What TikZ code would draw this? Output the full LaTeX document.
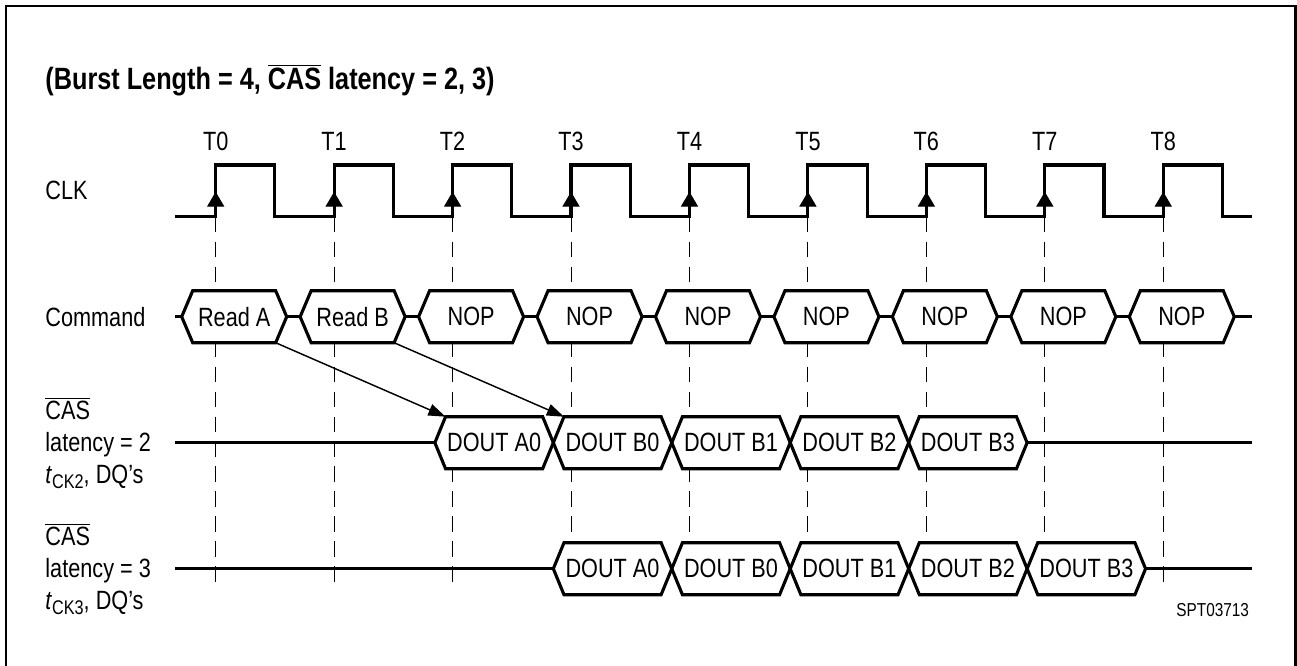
\documentclass[tikz,border=0pt]{standalone}
\usepackage{fontspec}
\setmainfont{Liberation Sans}[FakeStretch=0.82]
\usetikzlibrary{arrows.meta,positioning,calc}

\begin{document}
\begin{tikzpicture}[
  sig/.style={line width=1.5pt, line join=miter},
  txt/.style={font=\fontsize{12.7}{15.4}\selectfont},
  bus/.style={txt, fill=white, inner sep=0pt, outer sep=0pt, minimum height=0.878cm},
  cmd/.style={bus, minimum width=1.401cm},
  dout/.style={bus, minimum width=1.64cm},
  tick/.style={line width=0.5pt, dash pattern=on 7.5pt off 4.5pt},
  ptr/.style={-{Triangle[length=0.29cm,width=0.2cm]}, line width=0.7pt},
  lbl/.style={txt, anchor=west, align=left, inner sep=0pt}
]
  \useasboundingbox (0,0) rectangle (21.9,-11.245);
  % frame
  \draw[line width=1pt] (0.101,-11.245) -- (0.101,-0.101) -- (21.874,-0.101) -- (21.874,-11.245);

  \node[anchor=west, inner sep=0pt, font=\bfseries\fontsize{14.8}{17}\selectfont] (title) at (0.76,-1.351)
    {(Burst Length = 4, $\overline{\mbox{CAS}}$ latency = 2, 3)};

  % clock
  \draw[sig] (2.955,-3.659)
    \foreach \i in {0,...,8} { -- (3.642+2*\i,-3.659) -- ++(0,0.873) -- ++(1,0) -- ++(0,-0.873) }
    -- (21.145,-3.659);
  \foreach \i in {0,...,8} {
    \coordinate (t\i) at (3.642+2*\i,-3.659);
    \node[txt] (lt\i) at (3.642+2*\i,-2.393) {T\i};
    \draw[tick] (t\i) -- ++(0,-6.18);
    \draw[-{Triangle[length=0.25cm,width=0.29cm]}, line width=0.5pt] (t\i) -- ++(0,0.42);
  }

  \node[lbl] (clk) at (0.76,-3.208) {CLK};
  \node[lbl] (cmdl) at (0.76,-5.348) {Command};
  \node[lbl] (cas2) at (0.76,-7.475)
    {$\overline{\mbox{CAS}}$\\latency = 2\\\textit{t}\raisebox{-0.35ex}{\fontsize{9.5}{10}\selectfont CK2}, DQ’s};
  \node[lbl] (cas3) at (0.76,-9.603)
    {$\overline{\mbox{CAS}}$\\latency = 3\\\textit{t}\raisebox{-0.35ex}{\fontsize{9.5}{10}\selectfont CK3}, DQ’s};

  % command bus
  \foreach \txt [count=\i from 0] in {Read A, Read B, NOP, NOP, NOP, NOP, NOP, NOP, NOP}
    \node[cmd] (c\i) at (3.9545+2*\i,-5.348) {\txt};
  \foreach \i in {0,...,8}
    \draw[sig] (c\i.north west) -- (c\i.north east) -- ++(0.186,-0.439) -- (c\i.south east)
      -- (c\i.south west) -- ++(-0.186,0.439) -- cycle;
  \coordinate (cs) at (2.955,-5.348);
  \coordinate (ce) at (21.145,-5.348);
  \draw[sig] (cs) -- ($(c0.west)+(-0.186,0)$);
  \foreach \i [evaluate=\i as \j using int(\i+1)] in {0,...,7}
    \draw[sig] ($(c\i.east)+(0.186,0)$) -- ($(c\j.west)+(-0.186,0)$);
  \draw[sig] ($(c8.east)+(0.186,0)$) -- (ce);

  % data out
  \foreach \txt [count=\i from 0] in {DOUT A0, DOUT B0, DOUT B1, DOUT B2, DOUT B3} {
    \node[dout] (p\i) at (8.343+2*\i,-7.475) {\txt};
    \node[dout] (q\i) at (10.343+2*\i,-9.603) {\txt};
  }
  \foreach \n in {p,q}
    \foreach \i in {0,...,4}
      \draw[sig] (\n\i.north west) -- (\n\i.north east) -- ++(0.18,-0.439) -- (\n\i.south east)
        -- (\n\i.south west) -- ++(-0.18,0.439) -- cycle;
  \coordinate (ps) at (2.955,-7.475);
  \coordinate (pe) at (21.145,-7.475);
  \coordinate (qs) at (2.955,-9.603);
  \coordinate (qe) at (21.145,-9.603);
  \draw[sig] (ps) -- ($(p0.west)+(-0.18,0)$);
  \draw[sig] ($(p4.east)+(0.18,0)$) -- (pe);
  \draw[sig] (qs) -- ($(q0.west)+(-0.18,0)$);
  \draw[sig] ($(q4.east)+(0.18,0)$) -- (qe);

  \draw[ptr] (c0.south east) -- (p0.north west);
  \draw[ptr] (c1.south east) -- (p1.north west);

  \node[font=\fontsize{9}{11}\selectfont] (id) at (20.476,-10.3) {SPT03713};
\end{tikzpicture}
\end{document}
